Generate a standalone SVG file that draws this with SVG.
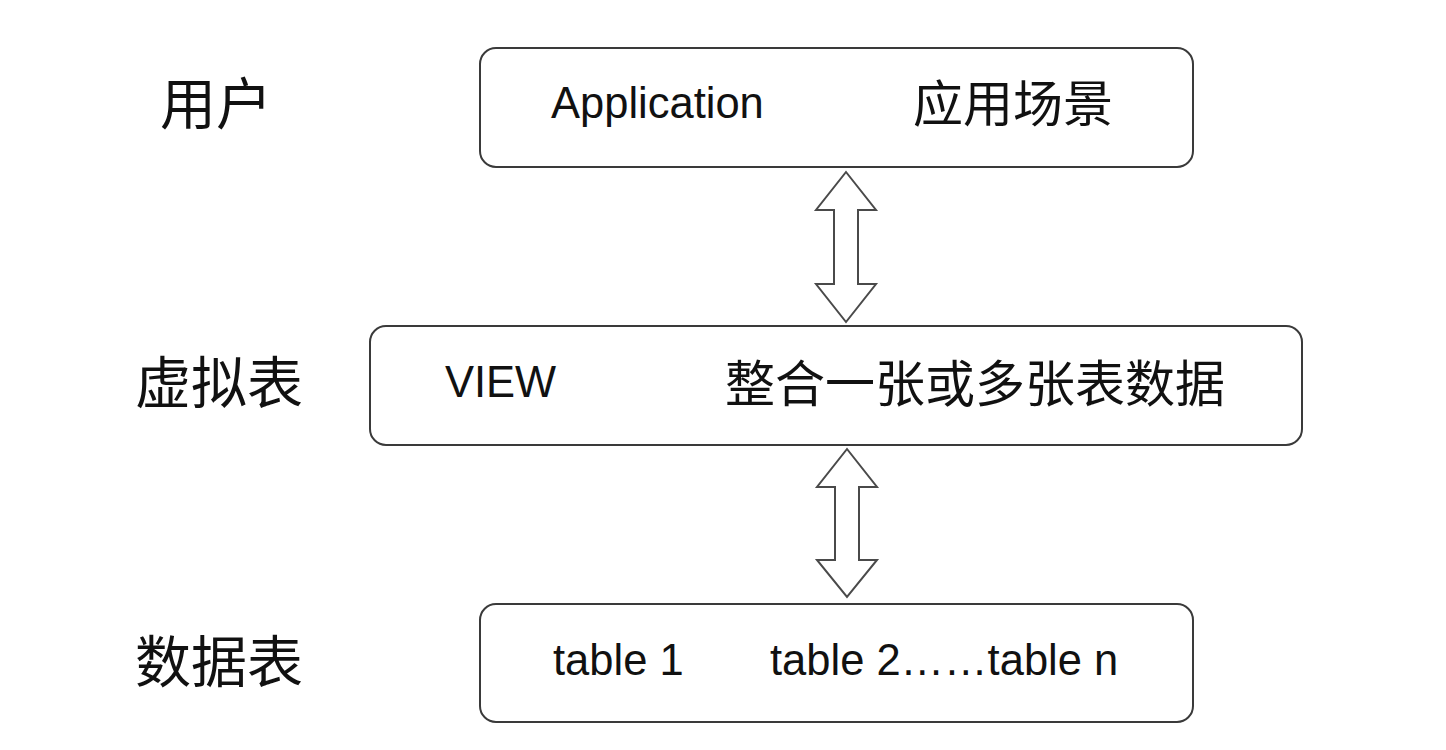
<svg xmlns="http://www.w3.org/2000/svg" width="1446" height="750" viewBox="0 0 1446 750">
<style>
.box{fill:#fff;stroke:#3a3a3a;stroke-width:2}
.arr{fill:#fff;stroke:#4a4a4a;stroke-width:2;stroke-linejoin:miter}
.en{font-family:"Liberation Sans",Arial,sans-serif;font-size:43.5px;fill:#111}
.cn{font-family:"Noto Sans CJK SC","Liberation Sans",sans-serif;fill:#111}
</style>
<rect width="1446" height="750" fill="#fff"/>
<g id="label-user"><text class="cn" x="160" y="124" font-size="56">用户</text></g>
<g id="label-virtual"><text class="cn" x="135" y="403" font-size="56">虚拟表</text></g>
<g id="label-data"><text class="cn" x="135" y="682" font-size="56">数据表</text></g>
<g id="app">
<rect class="box" x="480" y="48" width="713" height="119" rx="16"/>
<text class="en" x="551" y="118">Application</text>
<text class="cn" x="913" y="122" font-size="50">应用场景</text>
</g>
<g id="view">
<rect class="box" x="370" y="326" width="932" height="119" rx="16"/>
<text class="en" x="445" y="397">VIEW</text>
<text class="cn" x="725" y="402" font-size="50">整合一张或多张表数据</text>
</g>
<g id="tables">
<rect class="box" x="480" y="604" width="713" height="118" rx="16"/>
<text class="en" x="553" y="675">table 1</text>
<text class="en" x="770" y="675">table 2……table n</text>
</g>
<g id="connectors">
<polygon class="arr" points="846,172 876,210 858,210 858,284 876,284 846,322 816,284 834,284 834,210 816,210"/>
<polygon class="arr" points="847,449 877,487 859,487 859,560 877,560 847,597 817,560 835,560 835,487 817,487"/>
</g>
</svg>
